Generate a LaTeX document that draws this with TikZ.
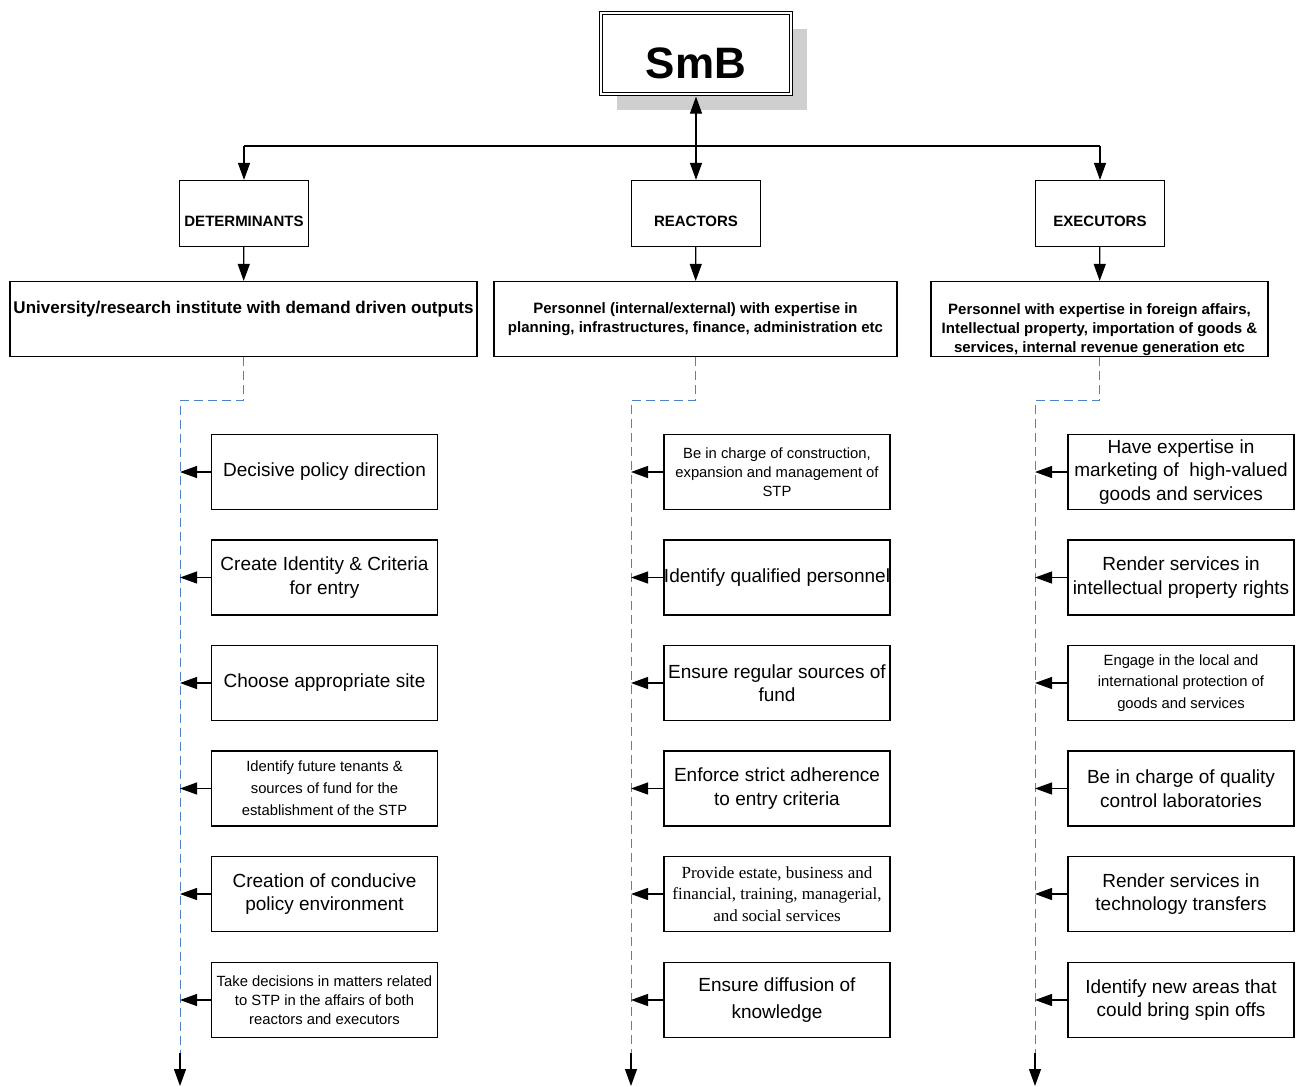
\documentclass[tikz,border=0pt]{standalone}
\usepackage{fontspec}
\setmainfont{Liberation Sans}
\newfontfamily\serifface{Liberation Serif}
\usetikzlibrary{arrows.meta,shadows}
\definecolor{dashblue}{RGB}{79,129,201}

\begin{document}
\begin{tikzpicture}[x=1pt,y=-1pt,line width=1.2pt]
    \tikzstyle{topbox} = [rectangle, draw=black, double, double distance=2pt, fill=white, minimum width=190pt, minimum height=81pt, font=\bfseries\fontsize{44}{44}\selectfont, text height=50pt, text depth=0pt, drop shadow={shadow xshift=16pt, shadow yshift=-16pt, fill=black!19, opacity=1}]
    \tikzstyle{head} = [rectangle, draw=black, fill=white, minimum width=129pt, minimum height=66pt, font=\bfseries\fontsize{15}{18}\selectfont, text height=25pt, text depth=0pt]
    \tikzstyle{wide} = [rectangle, draw=black, minimum height=75pt, align=center, font=\bfseries\fontsize{15}{19}\selectfont]
    \tikzstyle{boxtext} = [align=center, font=\bfseries\fontsize{15}{19}\selectfont]
    \tikzstyle{item} = [rectangle, draw=black, minimum width=226pt, minimum height=75pt, align=center, inner sep=0pt, font=\fontsize{19}{23.5}\selectfont]
    \tikzstyle{small} = [font=\fontsize{14.8}{19}\selectfont]
    \tikzstyle{arr} = [-{Triangle[length=17pt,width=12pt]}]
    \tikzstyle{feed} = [draw=dashblue, dash pattern=on 9pt off 5pt, line width=1pt]

    \useasboundingbox (0,0) rectangle (1302,1087);

    \node [topbox] (smb) at (696,53.5) {SmB};

    \node [head] (det) at (244,213.5) {DETERMINANTS};
    \node [head] (reac) at (696,213.5) {REACTORS};
    \node [head] (exe) at (1100,213.5) {EXECUTORS};

    \coordinate (bus) at (696,146);
    \draw (det.north |- bus) -- (exe.north |- bus);
    \draw [arr] (det.north |- bus) -- (det.north);
    \draw [arr] (exe.north |- bus) -- (exe.north);
    \draw [{Triangle[length=17pt,width=12pt]}-{Triangle[length=17pt,width=12pt]}, shorten <=2pt] (smb.south) -- (reac.north);

    % second row
    \node [wide, minimum width=467pt] (univ) at (243.5,319) {};
    \node [boxtext, font=\bfseries\fontsize{17}{20}\selectfont] at ([yshift=10pt]univ.center) {University/research institute with demand driven outputs};
    \node [wide, minimum width=403pt] (pers) at (695.5,319) {Personnel (internal/external) with expertise in\\planning, infrastructures, finance, administration etc};
    \node [wide, minimum width=337pt] (fore) at (1099.5,319) {};
    \node [boxtext] at ([yshift=-11pt]fore.center) {Personnel with expertise in foreign affairs,\\Intellectual property, importation of goods \&\\services, internal revenue generation etc};

    \draw [arr] (det) -- (univ);
    \draw [arr] (reac) -- (pers);
    \draw [arr] (exe) -- (fore);

    % feed lines
    \coordinate (d0) at (180,1053);
    \coordinate (r0) at (631,1053);
    \coordinate (e0) at (1035,1053);
    \draw [feed] (univ.south) -- ++(0,43) -| (d0);
    \draw [feed] (pers.south) -- ++(0,43) -| (r0);
    \draw [feed] (fore.south) -- ++(0,43) -| (e0);
    \draw [arr] (d0) -- ++(0,33);
    \draw [arr] (r0) -- ++(0,33);
    \draw [arr] (e0) -- ++(0,33);

    % determinants
    \node [item] (d1) at (324.5,472) {Decisive policy direction};
    \node [item] (d2) at (324.5,577.5) {Create Identity \& Criteria\\for entry};
    \node [item] (d3) at (324.5,683) {Choose appropriate site};
    \node [item, font=\fontsize{14.8}{22}\selectfont] (d4) at (324.5,788.5) {Identify future tenants \&\\sources of fund for the\\establishment of the STP};
    \node [item] (d5) at (324.5,894) {Creation of conducive\\policy environment};
    \node [item, small] (d6) at (324.5,1000) {Take decisions in matters related\\to STP in the affairs of both\\reactors and executors};

    % reactors
    \node [item, small] (r1) at (777,472) {Be in charge of construction,\\expansion and management of\\STP};
    \node [item] (r2) at (777,577.5) {Identify qualified personnel};
    \node [item] (r3) at (777,683) {Ensure regular sources of\\fund};
    \node [item] (r4) at (777,788.5) {Enforce strict adherence\\to entry criteria};
    \node [item, font=\serifface\fontsize{17}{21.5}\selectfont] (r5) at (777,894) {Provide estate, business and\\financial, training, managerial,\\and social services};
    \node [item, font=\fontsize{19}{27}\selectfont] (r6) at (777,1000) {Ensure diffusion of\\knowledge};

    % executors
    \node [item] (e1) at (1181,472) {Have expertise in\\marketing of~ high-valued\\goods and services};
    \node [item] (e2) at (1181,577.5) {Render services in\\intellectual property rights};
    \node [item, font=\fontsize{14.8}{21.5}\selectfont] (e3) at (1181,683) {Engage in the local and\\international protection of\\goods and services};
    \node [item] (e4) at (1181,788.5) {Be in charge of quality\\control laboratories};
    \node [item] (e5) at (1181,894) {Render services in\\technology transfers};
    \node [item] (e6) at (1181,1000) {Identify new areas that\\could bring spin offs};

    \foreach \n in {d1,d2,d3,d4,d5,d6}
        \draw [arr] (\n.west) -- (\n.west -| d0);
    \foreach \n in {r1,r2,r3,r4,r5,r6}
        \draw [arr] (\n.west) -- (\n.west -| r0);
    \foreach \n in {e1,e2,e3,e4,e5,e6}
        \draw [arr] (\n.west) -- (\n.west -| e0);
\end{tikzpicture}
\end{document}
